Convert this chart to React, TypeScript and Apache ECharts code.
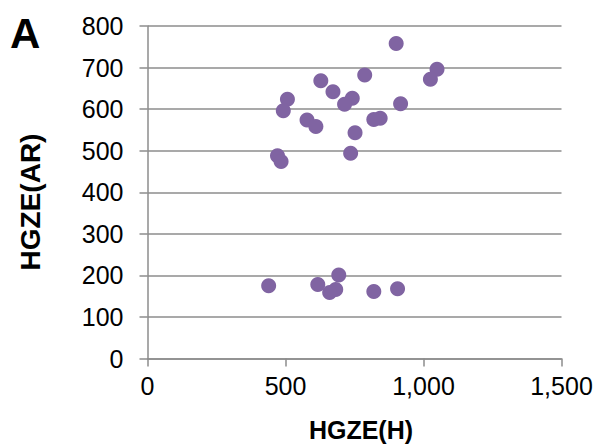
import React, { useEffect, useRef } from "react";
import * as echarts from "echarts";

const xValues = [901, 1049, 1025, 787, 628, 672, 742, 714, 507, 492, 917, 843, 820, 578, 610, 752, 736, 471, 484, 439, 617, 693, 682, 660, 820, 906];
const yValues = [758, 696, 672, 682, 668, 642, 626, 612, 624, 596, 613, 578, 575, 574, 558, 543, 494, 488, 474, 175, 178, 201, 166, 159, 161, 168];
const xAxisTitle = "HGZE(H)";
const yAxisTitle = "HGZE(AR)";
const panelLabel = "A";

export default function App() {
  const ref = useRef<HTMLDivElement>(null);
  useEffect(() => {
    if (!ref.current) return;
    const chart = echarts.init(ref.current, undefined, { renderer: "svg" });
    const points = xValues.map((x, i) => [x, yValues[i]]);
    const font = "'Liberation Sans', Arial, sans-serif";
    chart.setOption({
      animation: false,
      backgroundColor: "#ffffff",
      grid: { left: 147.5, right: 35.5, top: 26, bottom: 86.5, outerBoundsMode: "none" },
      xAxis: {
        type: "value",
        min: 0,
        max: 1500,
        interval: 500,
        axisLine: { show: true, lineStyle: { color: "#8c8c8c", width: 1.5 } },
        axisTick: { show: true, length: 8, lineStyle: { color: "#8c8c8c", width: 1.5 } },
        splitLine: { show: false },
        axisLabel: {
          margin: 15,
          color: "#000",
          fontSize: 25,
          fontFamily: font,
          formatter: (v: number) => v.toLocaleString("en-US"),
        },
      },
      yAxis: {
        type: "value",
        min: 0,
        max: 800,
        interval: 100,
        axisLine: { show: true, lineStyle: { color: "#8c8c8c", width: 1.5 } },
        axisTick: { show: true, length: 8, lineStyle: { color: "#8c8c8c", width: 1.5 } },
        splitLine: { show: true, lineStyle: { color: "#8c8c8c", width: 1.5 } },
        axisLabel: { margin: 24, color: "#000", fontSize: 25, fontFamily: font },
      },
      series: [
        {
          type: "scatter",
          data: points,
          symbol: "circle",
          symbolSize: 15,
          itemStyle: { color: "#8064a2", opacity: 1 },
        },
      ],
      graphic: [
        {
          type: "text",
          x: 10,
          y: 33,
          style: { text: panelLabel, font: `bold 42px ${font}`, fill: "#000", align: "left", verticalAlign: "middle" },
        },
        {
          type: "text",
          x: 30,
          y: 202,
          rotation: Math.PI / 2,
          style: { text: yAxisTitle, font: `bold 28px ${font}`, fill: "#000", align: "center", verticalAlign: "middle" },
        },
        {
          type: "text",
          x: 361,
          y: 430,
          style: { text: xAxisTitle, font: `bold 25px ${font}`, fill: "#000", align: "center", verticalAlign: "middle" },
        },
      ],
    });
    return () => chart.dispose();
  }, []);
  return <div ref={ref} style={{ width: 597, height: 445, position: "absolute", left: 0, top: 0 }} />;
}
